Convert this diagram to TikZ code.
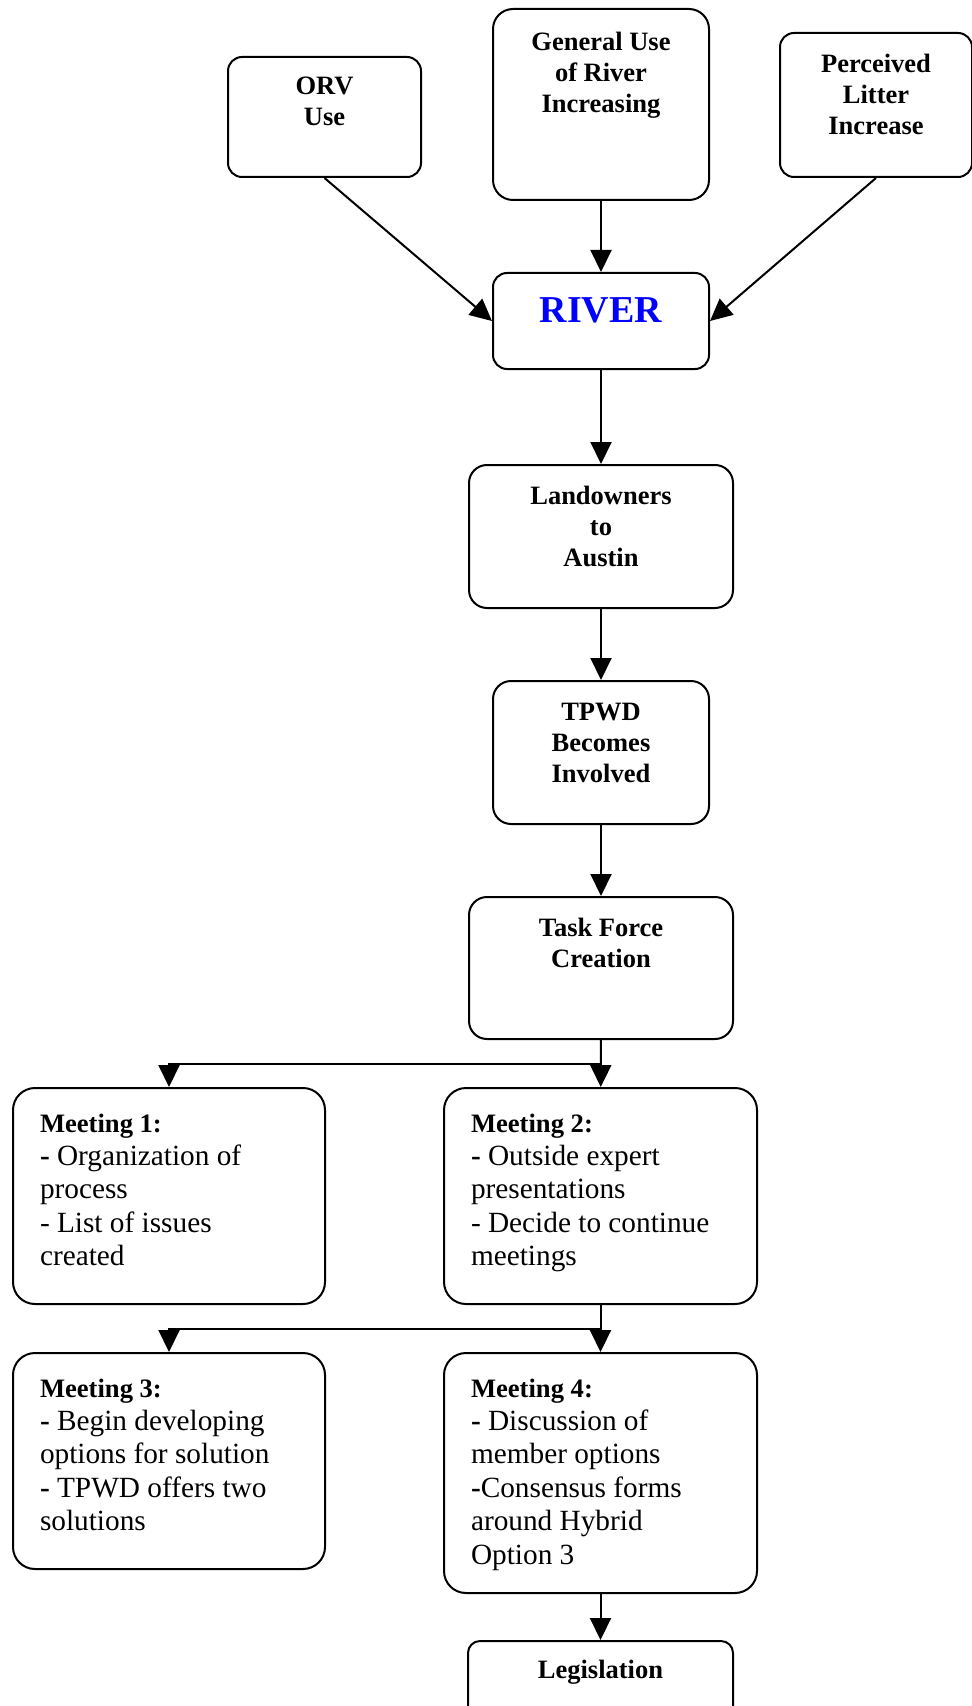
\documentclass[tikz,border=0pt]{standalone}
\usepackage{fontspec}
\setmainfont{Liberation Serif}
\usetikzlibrary{arrows.meta,calc}

% box contents: width, height, first baseline, text
\newcommand{\flowtext}[4]{\parbox[t][#2][t]{#1}{\centering\rule{0pt}{#3}#4}}
\newcommand{\meettext}[3]{\parbox[t][#2][t]{#1}{\raggedright\leftskip=13.5pt\rule{0pt}{22pt}#3}}
\newcommand{\meethead}[1]{{\bfseries\fontsize{13.3}{16.7}\selectfont #1}}

\tikzset{   flowbox/.style={draw,line width=1pt,rounded corners=#1,inner sep=0pt,anchor=north west,
                            font=\bfseries\fontsize{13.25}{15.5}\selectfont},
            flowbox/.default=7pt,
            meetbox/.style={draw,line width=1pt,rounded corners=11pt,inner sep=0pt,anchor=north west,
                            font=\fontsize{14.65}{16.7}\selectfont},
            flowarr/.style={line width=1pt,-{Triangle[length=11pt,width=10.5pt]}},
}

\begin{document}
\begin{tikzpicture}[x=0.5pt,y=-0.5pt]
    \useasboundingbox (0,0) rectangle (972,1706);
    \clip (0,0) rectangle (972,1706);

    \node[flowbox] (orv) at (227,56) {\flowtext{96.5pt}{60pt}{19pt}{ORV\\Use}};  % causes
    \node[flowbox=10pt] (gen) at (492,8) {\flowtext{108pt}{95.5pt}{21pt}{General Use\\of River\\Increasing}};
    \node[flowbox] (per) at (779,32) {\flowtext{96pt}{72pt}{20pt}{Perceived\\Litter\\Increase}};

    \node[flowbox] (river) at (492,272) {\flowtext{108pt}{48pt}{24.5pt}{\fontsize{19}{22}\selectfont\color{blue}RIVER}};

    \node[flowbox=9pt] (land) at (468,464) {\flowtext{132pt}{71.5pt}{19.5pt}{Landowners\\to\\Austin}};
    \node[flowbox=9pt] (tpwd) at (492,680) {\flowtext{108pt}{71.5pt}{19.5pt}{TPWD\\Becomes\\Involved}};
    \node[flowbox=9pt] (task) at (468,896) {\flowtext{132pt}{71pt}{19.5pt}{Task Force\\Creation}};

    \node[meetbox] (m1) at (12,1087) {\meettext{156pt}{108pt}{\meethead{Meeting 1:}\\
        \textbf{-} Organization of\\process\\- List of issues\\created}};
    \node[meetbox] (m2) at (443,1087) {\meettext{156.5pt}{108pt}{\meethead{Meeting 2:}\\
        \textbf{-} Outside expert\\presentations\\- Decide to continue\\meetings}};
    \node[meetbox] (m3) at (12,1352) {\meettext{156pt}{108pt}{\meethead{Meeting 3:}\\
        \textbf{-} Begin developing\\options for solution\\\textbf{-} TPWD offers two\\solutions}};
    \node[meetbox] (m4) at (443,1352) {\meettext{156.5pt}{120pt}{\meethead{Meeting 4:}\\
        \textbf{-} Discussion of\\member options\\\textbf{-}Consensus forms\\around Hybrid\\Option 3}};

    \node[flowbox=6pt] (leg) at (467,1640) {\flowtext{132.5pt}{50pt}{18.5pt}{Legislation}};

    \coordinate (split1) at ($(task.south)!0.5!(m2.north)$);  % branch points
    \coordinate (split2) at ($(m2.south)!0.5!(m4.north)$);

    \draw[flowarr] (orv.south) -- (river.west);
    \draw[flowarr] (gen) -- (river);
    \draw[flowarr] (per.south) -- (river.east);
    \draw[flowarr] (river) -- (land);
    \draw[flowarr] (land) -- (tpwd);
    \draw[flowarr] (tpwd) -- (task);
    \draw[flowarr] (task) -- (m2);
    \draw[flowarr] (split1) -| (m1.north);
    \draw[flowarr] (m2) -- (m4);
    \draw[flowarr] (split2) -| (m3.north);
    \draw[flowarr] (m4) -- (leg);
\end{tikzpicture}
\end{document}
